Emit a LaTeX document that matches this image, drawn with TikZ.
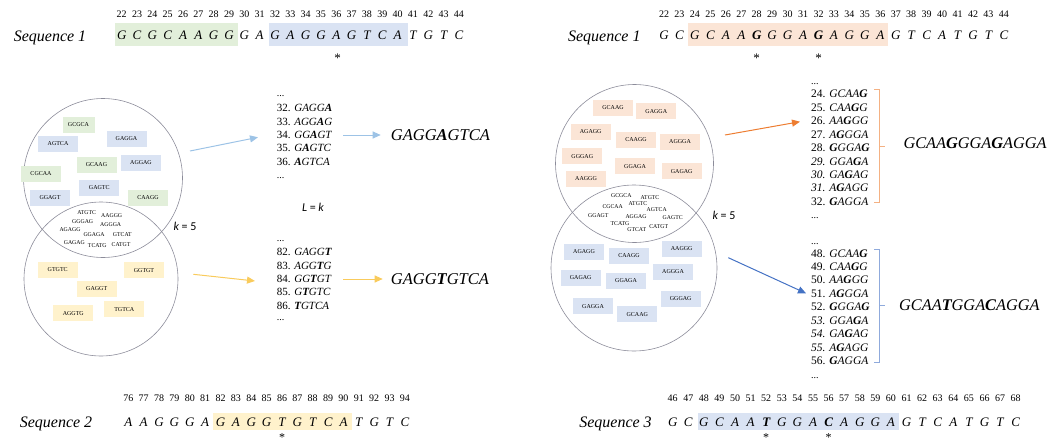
\documentclass[tikz,border=0pt]{standalone}
\usepackage{fontspec}
\setmainfont{Liberation Serif}
\newfontfamily\sansf{Carlito}
\usetikzlibrary{arrows.meta}
\definecolor{bgreen}{HTML}{E2EFDA}
\definecolor{bblue}{HTML}{DAE3F3}
\definecolor{byellow}{HTML}{FFF2CC}
\definecolor{borange}{HTML}{FBE5D6}
\definecolor{alblue}{HTML}{9DC3E6}
\definecolor{ayellow}{HTML}{F9CB5C}
\definecolor{aorange}{HTML}{ED7D31}
\definecolor{adblue}{HTML}{4472C4}
\definecolor{brorange}{HTML}{F4B183}
\definecolor{brblue}{HTML}{8FAADC}
\definecolor{circgray}{HTML}{8C8C9A}
\tikzset{
  num/.style={font=\fontsize{10}{12}\selectfont, anchor=base, inner sep=0},
  seqlet/.style={font=\fontsize{13}{15}\selectfont\itshape, anchor=base, inner sep=0},
  seqlab/.style={font=\fontsize{16}{18}\selectfont\itshape, anchor=base, inner sep=0},
  star/.style={font=\fontsize{13}{15}\selectfont, inner sep=0},
  starb/.style={font=\fontsize{12}{14}\selectfont, anchor=base, inner sep=0},
  kbox/.style={font=\fontsize{6}{7}\selectfont, minimum width=40pt, minimum height=16pt, inner sep=0},
  gbox/.style={kbox, fill=bgreen},
  blbox/.style={kbox, fill=bblue},
  ybox/.style={kbox, fill=byellow},
  obox/.style={kbox, fill=borange},
  kword/.style={font=\fontsize{5.8}{7}\selectfont, inner sep=0},
  lst/.style={font=\fontsize{11}{13}\selectfont, anchor=west, inner sep=0},
  lstr/.style={font=\fontsize{11.5}{13}\selectfont, anchor=west, inner sep=0},
  lstd/.style={font=\fontsize{10}{12}\selectfont, anchor=base west, inner sep=0},
  res/.style={font=\fontsize{16.5}{19}\selectfont\itshape, anchor=west, inner sep=0},
  sanslab/.style={font=\sansf\fontsize{12}{14}\selectfont, inner sep=0},
  venn/.style={circle, draw=circgray, line width=0.6pt, inner sep=0},
  arr/.style={line width=1pt, -{Triangle[length=8pt,width=7pt]}},
  brk/.style={line width=0.9pt}
}
\begin{document}
\begin{tikzpicture}[x=1pt,y=-1pt]
\useasboundingbox (0,0) rectangle (1063,444);

% ===================== LEFT PANEL =====================
% Sequence 1 (left)
\fill[bgreen] (115,23.5) rectangle (238,46);
\fill[bblue] (269,23.5) rectangle (408,46);
\node[seqlab] (sqA) at (50,42) {Sequence 1};
\foreach \n [count=\i from 0] in {22,...,44}
  \node[num] (sa-n-\i) at (121.7+\i*15.33,17.3) {\n};
\foreach \c [count=\i from 0] in {G,C,G,C,A,A,G,G,G,A,G,A,G,G,A,G,T,C,A,T,G,T,C}
  \node[seqlet] (sa-l-\i) at (121.7+\i*15.33,40) {\c};
\node[star] (sa-s) at (337.6,58) {*};

% Venn circles (left)
\node[venn, minimum size=159pt] (cA1) at (103,178) {};
\node[venn, minimum size=154pt] (cA2) at (101,279) {};

% boxes in top circle
\node[gbox, minimum width=32pt] (ba1) at (78.5,125) {GCGCA};
\node[blbox] (ba2) at (58,144) {AGTCA};
\node[blbox] (ba3) at (126.5,138.7) {GAGGA};
\node[gbox] (ba4) at (96.5,165) {GCAAG};
\node[blbox] (ba5) at (141,162.5) {AGGAG};
\node[gbox] (ba6) at (41,174) {CGCAA};
\node[blbox] (ba7) at (99.3,188) {GAGTC};
\node[blbox] (ba8) at (50,198) {GGAGT};
\node[gbox] (ba9) at (148,197.5) {CAAGG};

% words in intersection
\node[kword] (wa1) at (86.7,212.3) {ATGTC};
\node[kword] (wa2) at (111.7,215.7) {AAGGG};
\node[kword] (wa3) at (82.7,221.7) {GGGAG};
\node[kword] (wa4) at (110.7,225) {AGGGA};
\node[kword] (wa5) at (70,230) {AGAGG};
\node[kword] (wa6) at (94,234.3) {GGAGA};
\node[kword] (wa7) at (122.3,234.3) {GTCAT};
\node[kword] (wa8) at (74.3,242.7) {GAGAG};
\node[kword] (wa9) at (97.3,245.7) {TCATG};
\node[kword] (wa10) at (121,245) {CATGT};

% boxes in bottom circle
\node[ybox] (bb1) at (57.7,269.7) {GTGTC};
\node[ybox] (bb2) at (144,270.3) {GGTGT};
\node[ybox] (bb3) at (96.7,289) {GAGGT};
\node[ybox] (bb4) at (73.3,313.3) {AGGTG};
\node[ybox] (bb5) at (124.3,309.3) {TGTCA};

\node[sanslab] (kA) at (185,226) {{\itshape k} = 5};
\node[sanslab] (Lk) at (313,207) {{\itshape L} = {\itshape k}};

% list top (left)
\node[lstd] (la0) at (276.7,96) {...};
\node[lst] (la32) at (276.7,108.3) {32. \textit{GAGG\textbf{A}}};
\node[lst] (la33) at (276.7,121.7) {33. \textit{AGG\textbf{A}G}};
\node[lst] (la34) at (276.7,135) {34. \textit{GG\textbf{A}GT}};
\node[lst] (la35) at (276.7,148.3) {35. \textit{G\textbf{A}GTC}};
\node[lst] (la36) at (276.7,161.7) {36. \textit{\textbf{A}GTCA}};
\node[lstd] (la9) at (276.7,178) {...};

% list bottom (left)
\node[lstd] (lb0) at (276.7,241) {...};
\node[lst] (lb82) at (276.7,252.3) {82. \textit{GAGG\textbf{T}}};
\node[lst] (lb83) at (276.7,265.7) {83. \textit{AGG\textbf{T}G}};
\node[lst] (lb84) at (276.7,279) {84. \textit{GG\textbf{T}GT}};
\node[lst] (lb85) at (276.7,292.3) {85. \textit{G\textbf{T}GTC}};
\node[lst] (lb86) at (276.7,305.7) {86. \textit{\textbf{T}GTCA}};
\node[lstd] (lb9) at (276.7,320) {...};

\node[res] (resA) at (390.7,135) {GAGG\textbf{A}GTCA};
\node[res] (resB) at (390.7,279) {GAGG\textbf{T}GTCA};

\coordinate (a1s) at (190,151);
\coordinate (a1e) at (258,137.3);
\coordinate (a2s) at (343,135);
\coordinate (a3s) at (193.3,274.3);
\coordinate (a3e) at (255,281);
\coordinate (a4s) at (343.3,279);
\draw[arr, alblue] (a1s) -- (a1e);
\draw[arr, alblue] (a2s) -- ([xshift=-10pt]resA.west);
\draw[arr, ayellow] (a3s) -- (a3e);
\draw[arr, ayellow] (a4s) -- ([xshift=-8pt]resB.west);

% Sequence 2
\fill[byellow] (213.3,412.5) rectangle (351.7,430);
\node[seqlab] (sqB) at (56,427) {Sequence 2};
\foreach \n [count=\i from 0] in {76,...,94}
  \node[num] (sb-n-\i) at (128.3+\i*15.37,401.3) {\n};
\foreach \c [count=\i from 0] in {A,A,G,G,G,A,G,A,G,G,T,G,T,C,A,T,G,T,C}
  \node[seqlet] (sb-l-\i) at (128.3+\i*15.37,426) {\c};
\node[starb] (sb-s) at (282,441.3) {*};

% ===================== RIGHT PANEL =====================
\fill[borange] (687.7,23.3) rectangle (888.3,45.7);
\node[seqlab] (sqC) at (604.3,42) {Sequence 1};
\foreach \n [count=\i from 0] in {22,...,44}
  \node[num] (sc-n-\i) at (664+\i*15.45,17.3) {\n};
\foreach \c [count=\i from 0] in {G,C,G,C,A,A,{\textbf{G}},G,G,A,{\textbf{G}},A,G,G,A,G,T,C,A,T,G,T,C}
  \node[seqlet] (sc-l-\i) at (664+\i*15.45,40) {\c};
\node[star] (sc-s1) at (756.7,58) {*};
\node[star] (sc-s2) at (818.5,58) {*};

\node[venn, minimum size=158pt] (cB1) at (634.5,163.5) {};
\node[venn, minimum size=166pt] (cB2) at (634,268) {};

% orange boxes
\node[obox] (bc1) at (613,107.7) {GCAAG};
\node[obox] (bc2) at (656.3,111.3) {GAGGA};
\node[obox] (bc3) at (590.7,131.7) {AGAGG};
\node[obox] (bc4) at (636,139.7) {CAAGG};
\node[obox] (bc5) at (680,142) {AGGGA};
\node[obox] (bc6) at (582.3,156.3) {GGGAG};
\node[obox] (bc7) at (635,166.3) {GGAGA};
\node[obox] (bc8) at (681.7,171.3) {GAGAG};
\node[obox] (bc9) at (586,178.7) {AAGGG};

% intersection words (right)
\node[kword] (wc1) at (621.3,196) {GCGCA};
\node[kword] (wc2) at (650,197.3) {ATGTC};
\node[kword] (wc3) at (612.7,206.7) {CGCAA};
\node[kword] (wc4) at (638,204) {ATGTC};
\node[kword] (wc5) at (656.7,210) {AGTCA};
\node[kword] (wc6) at (598.3,216) {GGAGT};
\node[kword] (wc7) at (636,216.7) {AGGAG};
\node[kword] (wc8) at (672.7,217.3) {GAGTC};
\node[kword] (wc9) at (620,224) {TCATG};
\node[kword] (wc10) at (636.7,230) {GTCAT};
\node[kword] (wc11) at (658.7,226.7) {CATGT};

% blue boxes
\node[blbox] (bd1) at (584,251.7) {AGAGG};
\node[blbox] (bd2) at (629,255.7) {CAAGG};
\node[blbox] (bd3) at (681.7,248.7) {AAGGG};
\node[blbox] (bd4) at (580.7,278) {GAGAG};
\node[blbox] (bd5) at (626,281) {GGAGA};
\node[blbox] (bd6) at (673,272) {AGGGA};
\node[blbox] (bd7) at (680.7,298.7) {GGGAG};
\node[blbox] (bd8) at (593,306.3) {GAGGA};
\node[blbox] (bd9) at (637.3,314.3) {GCAAG};

\node[sanslab] (kB) at (724,215) {{\itshape k} = 5};

% right lists
\node[lstd] (lc0) at (811,84.5) {...};
\node[lstr] (lc24) at (811,94) {24. \textit{GCAA\textbf{G}}};
\node[lstr] (lc25) at (811,107.5) {25. \textit{CAA\textbf{G}G}};
\node[lstr] (lc26) at (811,120.9) {26. \textit{AA\textbf{G}GG}};
\node[lstr] (lc27) at (811,134.4) {27. \textit{A\textbf{G}GGA}};
\node[lstr] (lc28) at (811,147.8) {28. \textit{\textbf{G}GGA\textbf{G}}};
\node[lstr] (lc29) at (811,161.3) {\itshape 29. GGA\textbf{G}A};
\node[lstr] (lc30) at (811,174.8) {\itshape 30. GA\textbf{G}AG};
\node[lstr] (lc31) at (811,188.2) {\itshape 31. A\textbf{G}AGG};
\node[lstr] (lc32) at (811,201.7) {32. \textit{\textbf{G}AGGA}};
\node[lstd] (lc9) at (811,218) {...};

\node[lstd] (ld0) at (811,244.5) {...};
\node[lstr] (ld48) at (811,253.3) {48. \textit{GCAA\textbf{G}}};
\node[lstr] (ld49) at (811,266.8) {49. \textit{CAA\textbf{G}G}};
\node[lstr] (ld50) at (811,280.2) {50. \textit{AA\textbf{G}GG}};
\node[lstr] (ld51) at (811,293.7) {51. \textit{A\textbf{G}GGA}};
\node[lstr] (ld52) at (811,307.1) {52. \textit{\textbf{G}GGA\textbf{G}}};
\node[lstr] (ld53) at (811,320.6) {\itshape 53. GGA\textbf{G}A};
\node[lstr] (ld54) at (811,334.1) {\itshape 54. GA\textbf{G}AG};
\node[lstr] (ld55) at (811,347.5) {\itshape 55. A\textbf{G}AGG};
\node[lstr] (ld56) at (811,361) {56. \textit{\textbf{G}AGGA}};
\node[lstd] (ld9) at (811,378) {...};

% brackets
\draw[brk, brorange] (874,89.3) -- (879.3,89.3) -- (879.3,202.7) -- (874,202.7);
\draw[brk, brorange] (879.3,146) -- (885,146);
\draw[brk, brblue] (874,249.3) -- (879.3,249.3) -- (879.3,362.7) -- (874,362.7);
\draw[brk, brblue] (879.3,305.7) -- (885,305.7);

\node[res, font=\fontsize{16.3}{19}\selectfont\itshape] (resC) at (903.3,142.7) {GCAA\textbf{G}GGA\textbf{G}AGGA};
\node[res, font=\fontsize{16.3}{19}\selectfont\itshape] (resD) at (899,305) {GCAA\textbf{T}GGA\textbf{C}AGGA};

\coordinate (a5s) at (725,135);
\coordinate (a5e) at (800,121.7);
\coordinate (a6s) at (728.3,257.7);
\coordinate (a6e) at (806,293.3);
\draw[arr, aorange] (a5s) -- (a5e);
\draw[arr, adblue] (a6s) -- (a6e);

% Sequence 3
\fill[bblue] (698.3,412.5) rectangle (899,430);
\node[seqlab] (sqD) at (615.5,427) {Sequence 3};
\foreach \n [count=\i from 0] in {46,...,68}
  \node[num] (sd-n-\i) at (672.7+\i*15.59,401.3) {\n};
\foreach \c [count=\i from 0] in {G,C,G,C,A,A,{\textbf{T}},G,G,A,{\textbf{C}},A,G,G,A,G,T,C,A,T,G,T,C}
  \node[seqlet] (sd-l-\i) at (672.7+\i*15.59,426) {\c};
\node[starb] (sd-s1) at (766.2,441.3) {*};
\node[starb] (sd-s2) at (828.6,441.3) {*};
\end{tikzpicture}
\end{document}
